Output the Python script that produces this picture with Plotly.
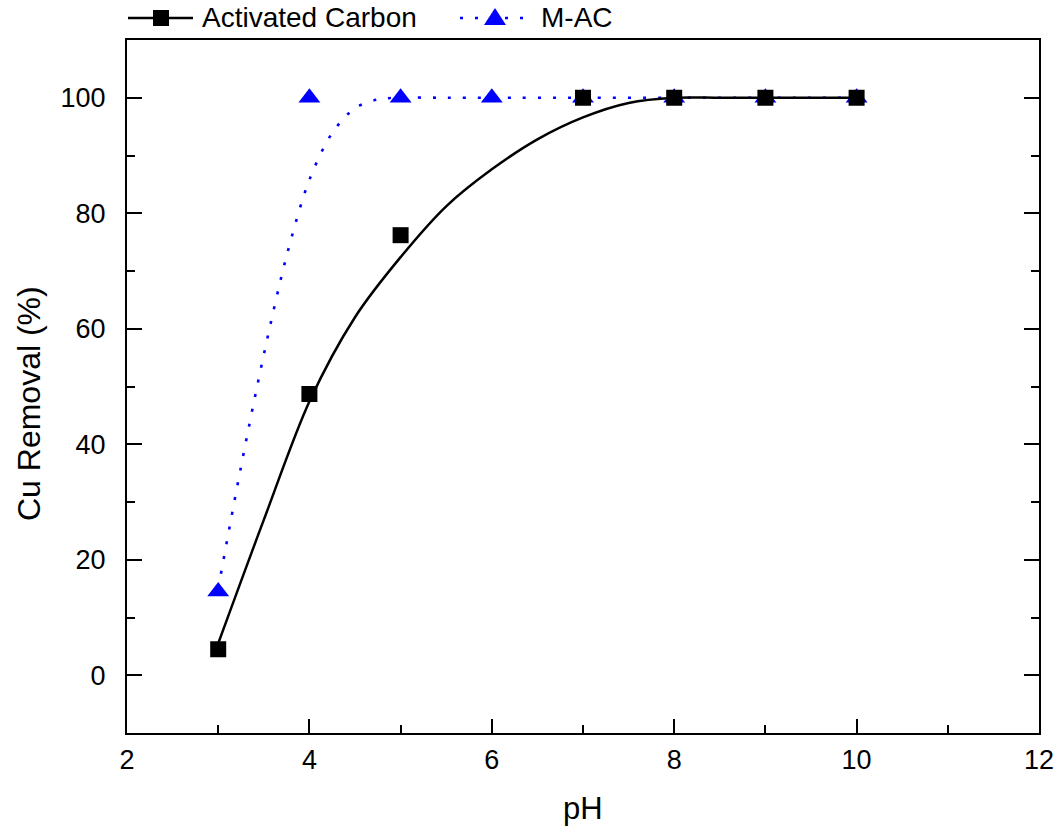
import plotly.graph_objects as go

# Measured data
ph = [3, 4, 5, 7, 8, 9, 10]
ac_removal = [4.5, 48.7, 76.2, 100, 100, 100, 100]
ph_mac = [3, 4, 5, 6, 7, 8, 9, 10]
mac_removal = [14.5, 100, 100, 100, 100, 100, 100, 100]

# Fitted curves
ac_fit_x = [3.0, 3.5, 4.0, 4.5, 5.0, 5.5, 6.0, 6.5, 7.0, 7.5, 8.0, 8.5, 9.0, 9.5, 10.0]
ac_fit_y = [5.5, 26.9, 47.4, 62.0, 72.4, 81.2, 87.6, 92.8, 96.6, 99.1, 100, 100, 100, 100, 100]
mac_fit_x = [3.0, 3.25, 3.5, 3.75, 4.0, 4.25, 4.5, 4.75, 5.0, 5.5, 6.0, 7.0, 8.0, 9.0, 10.0]
mac_fit_y = [15.0, 36.1, 55.5, 72.6, 85.8, 93.9, 98.2, 99.7, 100, 100, 100, 100, 100, 100, 100]

legend_names = ["Activated Carbon", "M-AC"]
x_title = "pH"
y_title = "Cu Removal (%)"

FONT = "Arial, Liberation Sans, sans-serif"
BLUE = "#0000ff"
DOT = "3px,12px"

L, R, T, B = 127, 22, 40, 103
W, H = 1061, 836
PW, PH = W - L - R, H - T - B


def px_x(px):
    return (px - L) / PW


def px_y(py):
    return (H - B - py) / PH


fig = go.Figure()
fig.add_trace(go.Scatter(x=mac_fit_x, y=mac_fit_y, mode="lines",
                         line=dict(color=BLUE, width=2.6, dash=DOT, shape="spline", smoothing=0.9),
                         showlegend=False, hoverinfo="skip"))
fig.add_trace(go.Scatter(x=ac_fit_x, y=ac_fit_y, mode="lines",
                         line=dict(color="black", width=2.5, shape="spline", smoothing=0.9),
                         showlegend=False, hoverinfo="skip"))
fig.add_trace(go.Scatter(x=ph_mac, y=mac_removal, mode="markers", name=legend_names[1],
                         marker=dict(symbol="triangle-up", size=19, color=BLUE), showlegend=False))
fig.add_trace(go.Scatter(x=ph, y=ac_removal, mode="markers", name=legend_names[0],
                         marker=dict(symbol="square", size=16, color="black"), showlegend=False))

# Custom legend drawn above the frame
ly = px_y(18)
shapes = [
    dict(type="line", xref="paper", yref="paper", x0=px_x(128), x1=px_x(193), y0=ly, y1=ly,
         line=dict(color="black", width=2.5)),
    dict(type="rect", xref="paper", yref="paper", xsizemode="pixel", ysizemode="pixel",
         xanchor=px_x(161), yanchor=ly, x0=-8, x1=8, y0=-8, y1=8,
         fillcolor="black", line=dict(width=0)),
    dict(type="line", xref="paper", yref="paper", x0=px_x(460), x1=px_x(530), y0=ly, y1=ly,
         line=dict(color=BLUE, width=2.6, dash=DOT)),
    dict(type="path", xref="paper", yref="paper", xsizemode="pixel", ysizemode="pixel",
         xanchor=px_x(495), yanchor=ly, path="M-11,-7 L11,-7 L0,10 Z",
         fillcolor=BLUE, line=dict(width=0)),
]
annotations = [
    dict(xref="paper", yref="paper", x=px_x(200), y=ly, text=legend_names[0], showarrow=False,
         xanchor="left", yanchor="middle", font=dict(size=28, family=FONT, color="black")),
    dict(xref="paper", yref="paper", x=px_x(539), y=ly, text=legend_names[1], showarrow=False,
         xanchor="left", yanchor="middle", font=dict(size=28, family=FONT, color="black")),
    dict(xref="paper", yref="paper", x=px_x(29), y=px_y(404), text=y_title, showarrow=False,
         textangle=-90, xanchor="center", yanchor="middle", font=dict(size=32, family=FONT, color="black")),
    dict(xref="paper", yref="paper", x=0.5, y=px_y(808), text=x_title, showarrow=False,
         xanchor="center", yanchor="middle", font=dict(size=31, family=FONT, color="black")),
]

fig.update_layout(
    width=W, height=H,
    margin=dict(l=L, r=R, t=T, b=B, autoexpand=False),
    plot_bgcolor="white", paper_bgcolor="white",
    font=dict(family=FONT, color="black", size=27),
    showlegend=False,
    shapes=shapes, annotations=annotations,
    xaxis=dict(range=[2, 12], dtick=2, tick0=2, showgrid=False, zeroline=False,
               showline=True, linecolor="black", linewidth=2, mirror=True,
               ticks="inside", ticklen=14, tickwidth=2, tickcolor="black",
               minor=dict(ticks="inside", ticklen=8, tickwidth=2, dtick=1, tickcolor="black"),
               tickfont=dict(size=27), ticklabelstandoff=2),
    yaxis=dict(range=[-10, 110], dtick=20, tick0=0, showgrid=False, zeroline=False,
               showline=True, linecolor="black", linewidth=2, mirror="ticks",
               ticks="inside", ticklen=15, tickwidth=2, tickcolor="black",
               minor=dict(ticks="inside", ticklen=8, tickwidth=2, dtick=10, tickcolor="black"),
               tickfont=dict(size=27), ticklabelstandoff=14),
)

fig.write_html("out.html")
